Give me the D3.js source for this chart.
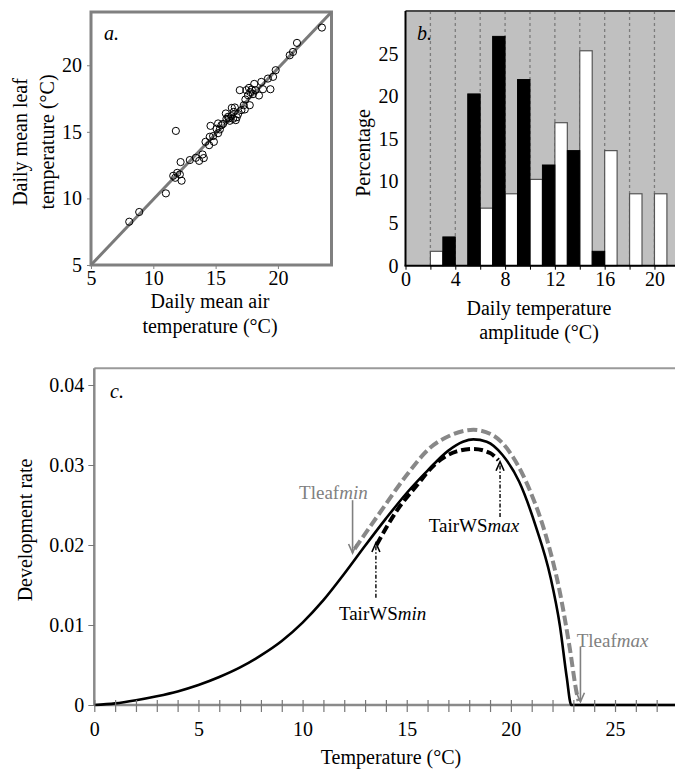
<!DOCTYPE html>
<html><head><meta charset="utf-8">
<script src="https://cdn.jsdelivr.net/npm/d3@7"></script>
<style>
html,body{margin:0;padding:0;background:#fff;}
svg{display:block;font-family:"Liberation Serif","Times New Roman",serif;}
</style></head>
<body>
<svg id="chart" width="675" height="769"></svg>
<script>
// ---------- Panel a data: daily mean air vs leaf temperature ----------
const airTemp = [8.07,8.87,11.01,11.81,12.19,11.92,11.76,12.13,12.27,11.6,12.93,13.41,13.68,13.95,14.05,14.19,14.48,14.53,14.80,14.59,15.2,15.07,15.34,15.47,15.82,15.87,16.0,16.14,16.27,16.40,16.46,16.62,16.54,16.80,16.94,17.07,17.26,17.39,17.47,17.6,17.68,17.79,17.9,18.0,17.74,17.34,18.2,18.48,18.67,18.8,19.2,19.61,19.82,20.95,21.21,21.53,23.53,16.7,15.6,14.86,16.3,18.1,19.4,15.2,16.05];
const leafTemp = [8.25,8.98,10.38,15.07,12.73,11.92,11.55,11.80,11.33,11.7,12.88,13.05,12.82,13.30,13.03,14.25,14.0,14.63,14.68,15.45,15.63,15.23,15.18,15.5,16.38,15.98,16.13,15.83,16.18,15.98,16.5,15.88,16.83,16.33,18.13,16.63,17.0,17.43,18.13,17.75,18.3,17.98,18.18,17.83,17.0,16.68,18.13,17.73,18.75,18.2,19.0,19.13,19.63,20.75,21.0,21.68,22.83,16.1,15.6,14.25,16.8,18.6,18.2,14.9,16.0];
const oneToOneX = [5, 24.3];
const oneToOneY = [5, 24.0];
const aTicks = [5, 10, 15, 20];

// ---------- Panel b data: daily temperature amplitude histogram ----------
const binStart = [2, 4, 6, 8, 10, 12, 14, 16, 18, 20];
const whitePct = [1.7, 0, 6.8, 8.5, 10.2, 16.9, 25.4, 13.6, 8.5, 8.5];
const blackPct = [3.4, 20.3, 27.1, 22.0, 11.9, 13.6, 1.7, 0, 0, 0];
const bXTicks = [0, 2, 4, 6, 8, 10, 12, 14, 16, 18, 20];
const bXLabels = [0, 4, 8, 12, 16, 20];
const bYTicks = [0, 5, 10, 15, 20, 25];
const bGrid = [2, 4, 6, 8, 10, 12, 14, 16, 18, 20];

// ---------- Panel c data: development rate curves ----------
const solidT = [0,1,2,3,4,5,6,7,8,9,10,11,12,13,14,15,16,17,17.7,18.2,18.84,19.6,20.4,21.2,21.9,22.36,22.68,22.9,27.9];
const solidR = [0,0.0002,0.0006,0.0011,0.0017,0.0025,0.0035,0.0047,0.0062,0.0080,0.0103,0.0131,0.0164,0.0199,0.0233,0.0265,0.0293,0.0318,0.0329,0.0332,0.0329,0.03125,0.0279,0.0223,0.016,0.0098,0.0035,0,0];
const leafT = [12.5,13.7,15.0,16.1,17.1,18.2,19.15,20.1,20.9,21.7,22.36,22.84,23.16,23.25];
const leafR = [0.0195,0.024,0.02875,0.0321,0.0337,0.0344,0.0337,0.031,0.0269,0.021,0.014,0.0069,0.0015,0.0005];
const airWST = [13.55,14.5,15.5,16.4,17.4,18.2,19.0,19.4];
const airWSR = [0.020,0.0242,0.0275,0.0302,0.0317,0.0320,0.0315,0.0306];
const cXTicks = [0, 5, 10, 15, 20, 25];
const cYTicks = [0, 0.01, 0.02, 0.03, 0.04];
// annotations: [label, italic part, labelT, labelR, arrowT, arrowFromR, arrowToR, kind]
const notes = [
  ["Tleaf", "min", 11.48, 0.0266, 12.40, 0.0256, 0.0190, "grey"],
  ["Tleaf", "max", 24.88, 0.0081, 23.34, 0.00725, 0.0004, "grey"],
  ["TairWS", "min", 13.84, 0.0115, 13.52, 0.0134, 0.02025, "black"],
  ["TairWS", "max", 18.23, 0.0225, 19.48, 0.0235, 0.0304, "black"]
];

const svg = d3.select("#chart");
const FS = 20;

function rotLabel(x, y, t) {
  svg.append("text").attr("transform", `translate(${x},${y}) rotate(-90)`)
    .attr("text-anchor", "middle").attr("dy", "0.35em")
    .style("font-size", FS + "px").text(t);
}
function hLabel(x, y, t) {
  svg.append("text").attr("x", x).attr("y", y).attr("text-anchor", "middle")
    .attr("dy", "0.35em").style("font-size", FS + "px").text(t);
}
function styleAxis(g, color) {
  g.selectAll("text").style("font-size", FS + "px").style("font-family", '"Liberation Serif","Times New Roman",serif').attr("fill", "#000");
  g.selectAll("line").attr("stroke", color);
  g.select(".domain").remove();
}

// ================= Panel a =================
const xA = d3.scaleLinear().domain([5, 24.3]).range([91, 331.5]);
const yA = d3.scaleLinear().domain([5, 24.0]).range([265, 12]);
const gA = svg.append("g");
gA.append("rect").attr("x", xA(5)).attr("y", yA(24)).attr("width", xA(24.3) - xA(5)).attr("height", yA(5) - yA(24))
  .attr("fill", "#fff").attr("stroke", "#808080").attr("stroke-width", 3);
gA.append("line").attr("x1", xA(oneToOneX[0])).attr("y1", yA(oneToOneY[0]))
  .attr("x2", xA(oneToOneX[1])).attr("y2", yA(oneToOneY[1]))
  .attr("stroke", "#7a7a7a").attr("stroke-width", 3);
gA.selectAll("circle.pt").data(airTemp.map((d, i) => [d, leafTemp[i]])).join("circle")
  .attr("class", "pt").attr("cx", d => xA(d[0])).attr("cy", d => yA(d[1])).attr("r", 3.6)
  .attr("fill", "none").attr("stroke", "#000").attr("stroke-width", 1);
const axA_x = svg.append("g").attr("transform", `translate(0,${yA(5)})`)
  .call(d3.axisBottom(xA).tickValues(aTicks).tickSize(4).tickPadding(2));
styleAxis(axA_x, "#808080");
const axA_y = svg.append("g").attr("transform", `translate(${xA(5)},0)`)
  .call(d3.axisLeft(yA).tickValues(aTicks).tickSize(4).tickPadding(5));
styleAxis(axA_y, "#808080");
svg.append("text").attr("x", 104).attr("y", 40).style("font-size", FS + "px").style("font-style", "italic").text("a.");
rotLabel(20, 142, "Daily mean leaf");
rotLabel(47, 142, "temperature (°C)");
hLabel(210, 301, "Daily mean air");
hLabel(210, 326, "temperature (°C)");

// ================= Panel b =================
const xB = d3.scaleLinear().domain([0, 21.65]).range([405.5, 675]);
const yB = d3.scaleLinear().domain([0, 30.1]).range([265.7, 11]);
const gB = svg.append("g");
gB.append("rect").attr("x", xB(0)).attr("y", yB(30.1)).attr("width", xB(21.65) - xB(0)).attr("height", yB(0) - yB(30.1))
  .attr("fill", "#c0c0c0");
gB.selectAll("line.grid").data(bGrid).join("line").attr("class", "grid")
  .attr("x1", d => xB(d)).attr("x2", d => xB(d)).attr("y1", yB(30.1)).attr("y2", yB(0))
  .attr("stroke", "#7c7c7c").attr("stroke-width", 1.3).attr("stroke-dasharray", "3,3");
gB.selectAll("rect.wb").data(binStart.map((b, i) => [b, whitePct[i]]).filter(d => d[1] > 0)).join("rect")
  .attr("class", "wb").attr("x", d => xB(d[0])).attr("width", xB(1) - xB(0))
  .attr("y", d => yB(d[1])).attr("height", d => yB(0) - yB(d[1]))
  .attr("fill", "#fff").attr("stroke", "#555").attr("stroke-width", 1.2);
gB.selectAll("rect.bb").data(binStart.map((b, i) => [b + 1, blackPct[i]]).filter(d => d[1] > 0)).join("rect")
  .attr("class", "bb").attr("x", d => xB(d[0])).attr("width", xB(1) - xB(0))
  .attr("y", d => yB(d[1])).attr("height", d => yB(0) - yB(d[1]))
  .attr("fill", "#000").attr("stroke", "#000").attr("stroke-width", 1);
gB.append("line").attr("x1", xB(0)).attr("x2", 675).attr("y1", yB(30.1)).attr("y2", yB(30.1))
  .attr("stroke", "#4a4a4a").attr("stroke-width", 2);
gB.append("line").attr("x1", xB(0)).attr("x2", xB(0)).attr("y1", yB(30.1)).attr("y2", yB(0))
  .attr("stroke", "#000").attr("stroke-width", 2);
gB.append("line").attr("x1", xB(0) - 1).attr("x2", 675).attr("y1", yB(0)).attr("y2", yB(0))
  .attr("stroke", "#000").attr("stroke-width", 2);
const axB_x = svg.append("g").attr("transform", `translate(0,${yB(0)})`)
  .call(d3.axisBottom(xB).tickValues(bXTicks).tickSize(4).tickPadding(2)
    .tickFormat(d => bXLabels.includes(d) ? d : ""));
styleAxis(axB_x, "#000");
const axB_y = svg.append("g").attr("transform", `translate(${xB(0)},0)`)
  .call(d3.axisLeft(yB).tickValues(bYTicks).tickSize(0).tickPadding(7));
styleAxis(axB_y, "#000");
svg.append("text").attr("x", 417).attr("y", 40).style("font-size", FS + "px").style("font-style", "italic").text("b.");
rotLabel(363, 153, "Percentage");
hLabel(539, 308, "Daily temperature");
hLabel(539, 332, "amplitude (°C)");

// ================= Panel c =================
const xC = d3.scaleLinear().domain([0, 27.88]).range([94.3, 675]);
const yC = d3.scaleLinear().domain([0, 0.0421]).range([705, 368.2]);
const gC = svg.append("g");
gC.append("line").attr("x1", xC(0)).attr("x2", 675).attr("y1", yC(0.0421)).attr("y2", yC(0.0421))
  .attr("stroke", "#9a9a9a").attr("stroke-width", 2);
gC.append("line").attr("x1", xC(0)).attr("x2", xC(0)).attr("y1", yC(0.0421)).attr("y2", yC(0))
  .attr("stroke", "#8a8a8a").attr("stroke-width", 2.5);
gC.append("line").attr("x1", xC(0)).attr("x2", 675).attr("y1", yC(0)).attr("y2", yC(0))
  .attr("stroke", "#8a8a8a").attr("stroke-width", 2.5);
const axC_x = svg.append("g").attr("transform", `translate(0,${yC(0)})`)
  .call(d3.axisBottom(xC).tickValues(d3.range(0, 28, 1)).tickSize(7).tickPadding(10)
    .tickFormat(d => cXTicks.includes(d) ? d : ""));
styleAxis(axC_x, "#777");
axC_x.selectAll(".tick line").attr("y1", -5).attr("stroke-width", 1.2);
const axC_y = svg.append("g").attr("transform", `translate(${xC(0)},0)`)
  .call(d3.axisLeft(yC).tickValues(cYTicks).tickSize(6).tickPadding(4)
    .tickFormat(d => d === 0 ? "0" : d.toFixed(2)));
styleAxis(axC_y, "#777");

const lineC = d3.line().x(d => xC(d[0])).y(d => yC(d[1])).curve(d3.curveMonotoneX);
gC.append("path").datum(leafT.map((t, i) => [t, leafR[i]])).attr("d", lineC)
  .attr("fill", "none").attr("stroke", "#888").attr("stroke-width", 4).attr("stroke-dasharray", "10,4");
gC.append("path").datum(airWST.map((t, i) => [t, airWSR[i]])).attr("d", lineC)
  .attr("fill", "none").attr("stroke", "#000").attr("stroke-width", 4).attr("stroke-dasharray", "9,4");
gC.append("path").datum(solidT.map((t, i) => [t, solidR[i]])).attr("d", lineC)
  .attr("fill", "none").attr("stroke", "#000").attr("stroke-width", 2.6).attr("stroke-linejoin", "round");

notes.forEach(n => {
  const [main, ital, lt, lr, at, r0, r1, kind] = n;
  const col = kind === "grey" ? "#808080" : "#000";
  const ax = xC(at), y0 = yC(r0), y1 = yC(r1);
  const dir = y1 > y0 ? 1 : -1;
  gC.append("line").attr("x1", ax).attr("x2", ax).attr("y1", y0).attr("y2", y1)
    .attr("stroke", col).attr("stroke-width", kind === "grey" ? 1.6 : 1.4)
    .attr("stroke-dasharray", kind === "grey" ? null : "4,2,1.5,2");
  gC.append("path").attr("d", `M${ax - 4},${y1 - dir * 9}L${ax},${y1}L${ax + 4},${y1 - dir * 9}`)
    .attr("fill", "none").attr("stroke", col).attr("stroke-width", 1.6);
  const t = gC.append("text").attr("x", xC(lt)).attr("y", yC(lr)).attr("dy", "0.35em")
    .attr("text-anchor", "middle").attr("fill", col).style("font-size", "19px");
  t.append("tspan").text(main);
  t.append("tspan").style("font-style", "italic").text(ital);
});

svg.append("text").attr("x", 110).attr("y", 398).style("font-size", FS + "px").style("font-style", "italic").text("c.");
rotLabel(25, 530, "Development rate");
hLabel(391, 757, "Temperature (°C)");
</script>
</body></html>
